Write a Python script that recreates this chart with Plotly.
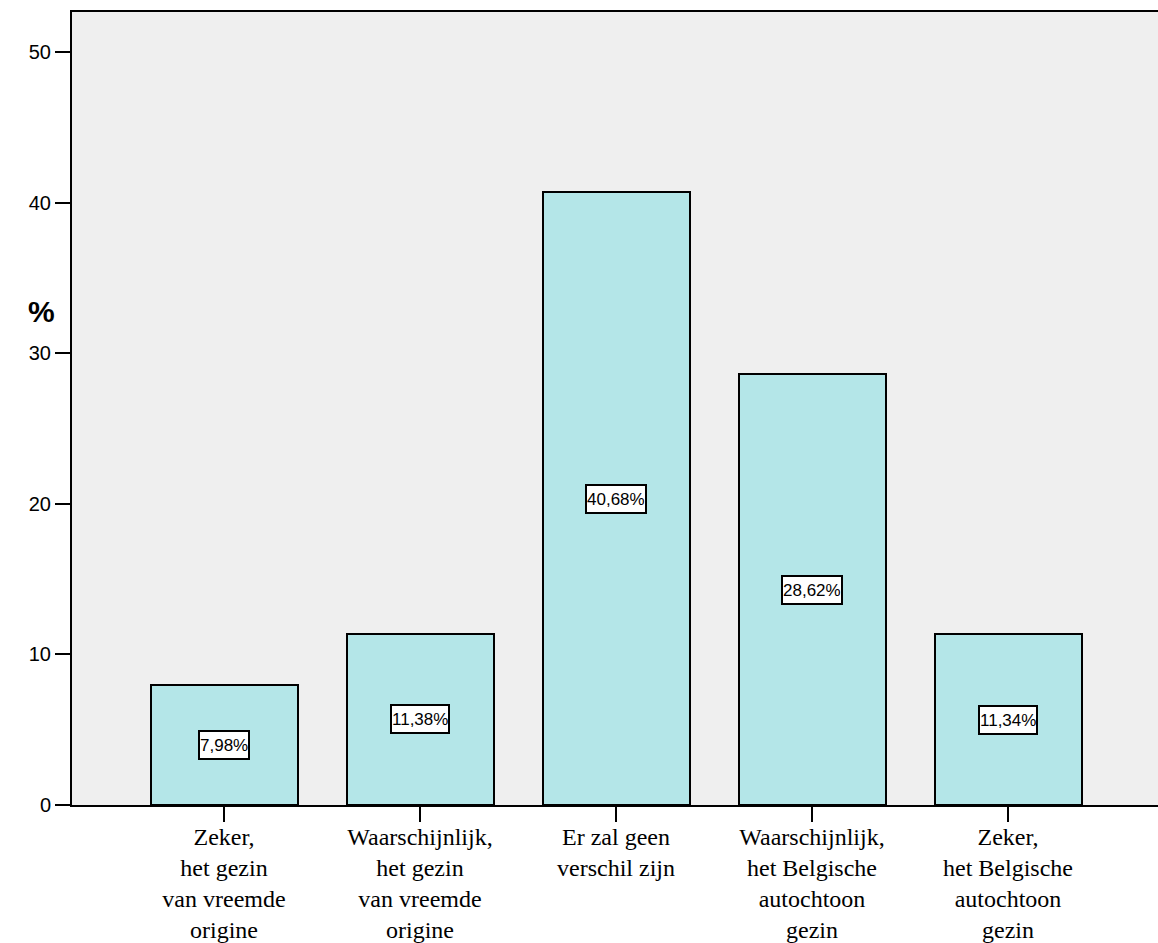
import plotly.graph_objects as go

categories = [
    "Zeker,<br>het gezin<br>van vreemde<br>origine",
    "Waarschijnlijk,<br>het gezin<br>van vreemde<br>origine",
    "Er zal geen<br>verschil zijn<br> <br> ",
    "Waarschijnlijk,<br>het Belgische<br>autochtoon<br>gezin",
    "Zeker,<br>het Belgische<br>autochtoon<br>gezin",
]
values = [7.98, 11.38, 40.68, 28.62, 11.34]
y_ticks = [0, 10, 20, 30, 40, 50]

labels = [f"{v:.2f}".replace(".", ",") + "%" for v in values]

fig = go.Figure()
fig.add_trace(go.Bar(
    x=categories, y=values, width=0.75,
    marker=dict(color="#B4E6E8", line=dict(color="black", width=2)),
    hoverinfo="skip",
))

for c, v, t in zip(categories, values, labels):
    fig.add_annotation(
        x=c, y=v / 2, xref="x", yref="y", text=t, showarrow=False,
        font=dict(family="Liberation Sans, Arial", size=17, color="black"),
        bgcolor="white", bordercolor="black", borderwidth=2, borderpad=0,
        height=26,
    )

fig.add_annotation(
    x=0, xref="paper", xshift=-46, y=32.8, yref="y", text="<b>%</b>",
    showarrow=False, font=dict(family="Liberation Sans, Arial", size=30, color="black"),
)

fig.update_layout(
    width=1158, height=943,
    margin=dict(l=72, r=0, t=12, b=138, autoexpand=False),
    paper_bgcolor="white", plot_bgcolor="#EFEFEF",
    showlegend=False, bargap=0,
)
fig.update_xaxes(
    type="category", range=[-0.7755, 4.7653], automargin=False,
    showline=True, mirror=True, linecolor="black", linewidth=2,
    ticks="outside", ticklen=15, tickwidth=2, tickcolor="black",
    ticklabelstandoff=-6,
    tickfont=dict(family="Liberation Serif, Times New Roman", size=24, color="black"),
    showgrid=False, zeroline=False,
)
fig.update_yaxes(
    range=[0, 52.66], tickvals=y_ticks, automargin=False,
    showline=True, linecolor="black", linewidth=2,
    ticks="outside", ticklen=15, tickwidth=2, tickcolor="black",
    tickfont=dict(family="Liberation Sans, Arial", size=20, color="black"),
    showgrid=False, zeroline=False,
)

fig.write_html(
    "out.html",
    config={"displayModeBar": False},
    post_script="document.body.style.margin='0';document.body.style.overflow='hidden';",
)
